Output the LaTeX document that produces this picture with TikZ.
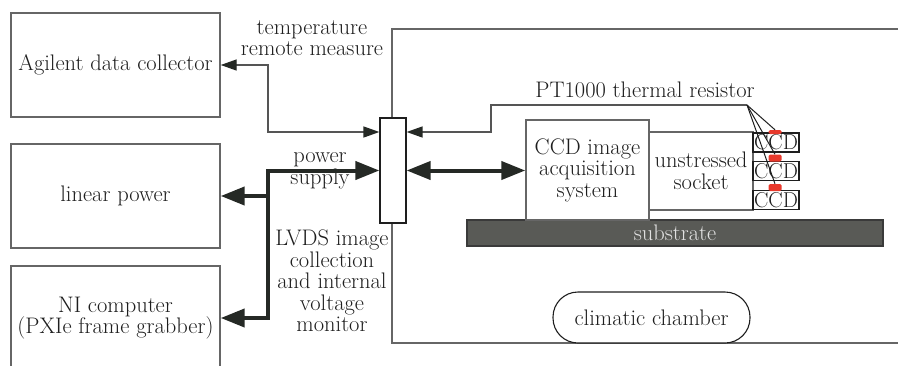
\documentclass[tikz,border=0pt]{standalone}
\usetikzlibrary{arrows.meta,calc}
\definecolor{boxgray}{HTML}{666666}
\definecolor{lineg}{HTML}{555555}
\definecolor{ink}{HTML}{1E1E1E}
\definecolor{thk}{HTML}{252925}
\definecolor{subfill}{HTML}{595A56}
\definecolor{subdraw}{HTML}{3A3A3A}
\definecolor{subtext}{HTML}{E2E2E2}
\definecolor{padred}{HTML}{E8392C}
\begin{document}
\begin{tikzpicture}[x=1pt,y=-1pt,
  txt/.style={font=\fontsize{22.5}{21.5}\selectfont, text=ink, align=center, inner sep=0pt},
  box/.style={draw=boxgray, line width=1.4pt, fill=white, txt},
  thinln/.style={draw=lineg, line width=1.4pt},
  tharrow/.style={thinln, -{Triangle[length=16pt,width=11pt,color=thk]}},
  thboth/.style={thinln, {Triangle[length=16pt,width=11pt,color=thk]}-{Triangle[length=16pt,width=11pt,color=thk]}},
  tkline/.style={draw=thk, line width=4pt, line join=miter},
  tkarrow/.style={tkline, -{Triangle[length=24pt,width=18pt]}},
  tkboth/.style={tkline, {Triangle[length=24pt,width=18pt]}-{Triangle[length=24pt,width=18pt]}},
  ccdbox/.style={draw=ink, line width=1.2pt, fill=white, font=\fontsize{21.5}{21}\selectfont, text=ink, inner sep=0pt, minimum width=46pt, minimum height=19pt},
  pad/.style={fill=padred, draw=none, minimum width=13pt, inner sep=0pt, rounded corners=1.5pt},
  fanln/.style={draw=ink, line width=1pt}
]
\useasboundingbox (0,0) rectangle (898,365);

% climatic chamber enclosure
\draw[thinln, draw=boxgray] (920,29) -- (392,29) -- (392,343) -- (920,343);

% left boxes
\node[box, minimum width=209pt, minimum height=104pt] (ag) at (115.5,65) {Agilent data collector};
\node[box, minimum width=209pt, minimum height=104pt] (lp) at (115.5,196) {linear power};
\node[box, minimum width=209pt, minimum height=104pt] (ni) at (115.5,318) {NI computer\\(PXIe frame grabber)};

% small interface box
\node[draw=ink, line width=1.2pt, fill=white, minimum width=26pt, minimum height=105pt, inner sep=0pt] (sb) at (393,170.5) {};

% substrate
\node[draw=subdraw, line width=1.2pt, fill=subfill, minimum width=416pt, minimum height=26pt, inner sep=0pt,
      font=\fontsize{22.5}{21.5}\selectfont, text=subtext] (sub) at (675,233) {substrate};

% CCD acquisition and socket
\node[box, minimum width=123pt, minimum height=100pt] (acq) at (587.5,170) {CCD image\\acquisition\\system};
\node[box, minimum width=104pt, minimum height=78pt] (sock) at (701,171) {unstressed\\socket};

% CCDs
\node[ccdbox] (c1) at (776,142.5) {CCD};
\node[ccdbox] (c2) at (776,171) {CCD};
\node[ccdbox] (c3) at (776,200) {CCD};
\node[pad, minimum height=4pt] (p1) at (775,132) {};
\node[pad, minimum height=7pt] (p2) at (775,158) {};
\node[pad, minimum height=7pt] (p3) at (775,187.5) {};

% climatic chamber label
\node[draw=ink, line width=1.1pt, rounded corners=25pt, minimum width=197pt, minimum height=51pt,
      font=\fontsize{22.5}{21.5}\selectfont, text=ink, fill=white] (cc) at (651.5,317.5) {climatic chamber};

% labels
\node[txt] (ltemp) at (312,38) {temperature\\remote measure};
\node[txt] (lpt) at (645,90) {PT1000 thermal resistor};
\node[txt] (lpow) at (320,171) {power\\supply};
\node[txt] (llvds) at (332,281) {LVDS image\\collection\\and internal\\voltage\\monitor};

% coordinates
\coordinate (t1) at (268,132);
\coordinate (f) at (747,105);
\coordinate (q1) at (491,132);
\coordinate (j2) at (268,318);

% temperature remote measure connector
\draw[thboth] (sb.west |- t1) -- (t1) |- (ag.east);

% PT1000 connector
\draw[tharrow] (f) -| (q1) -- (sb.east |- q1);
\draw[fanln] (f) -- (p1.north);
\draw[fanln] (f) -- (p2.north);
\draw[fanln] (f) -- (p3.north);

% power / LVDS connectors
\draw[tkboth] (ni.east |- j2) -- (j2) |- (sb.west);
\draw[tkarrow] (j2 |- lp.east) -- (lp.east);

% acquisition double arrow
\draw[tkboth] (sb.east) -- (acq.west |- sb.east);
\end{tikzpicture}
\end{document}
